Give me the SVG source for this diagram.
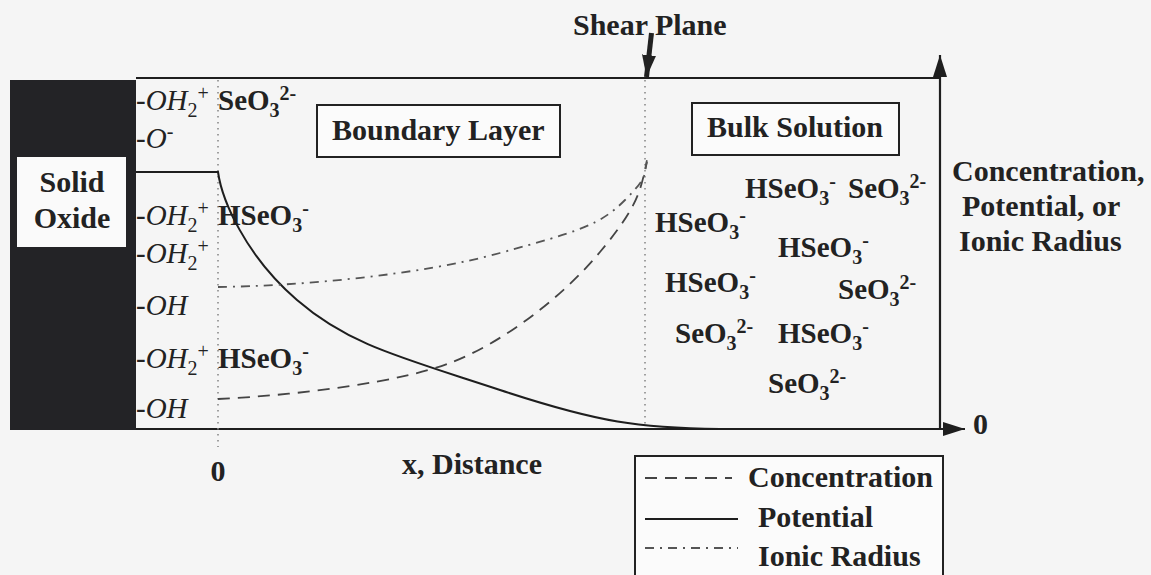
<svg xmlns="http://www.w3.org/2000/svg" width="1151" height="575" viewBox="0 0 1151 575">
<style>
text{font-family:"Liberation Serif","Times New Roman",serif;fill:#222;}
.h{font-size:30px;font-weight:bold;}
.lab{font-size:29px;}
.i{font-style:italic;}
.b{font-weight:bold;}
.sp{font-size:29px;font-weight:bold;}
.s{font-size:20px;}
.box{fill:#fbfbfb;stroke:#222;stroke-width:2;}
.ax{stroke:#1e1e1e;stroke-width:2.2;fill:none;}
.dot{stroke:#8a8a8a;stroke-width:1.6;stroke-dasharray:1.5 4.5;fill:none;}
.pot{stroke:#1e1e1e;stroke-width:2;fill:none;}
.con{stroke:#444;stroke-width:1.8;stroke-dasharray:12 8;fill:none;}
.ion{stroke:#555;stroke-width:1.8;stroke-dasharray:9 6 2 6;fill:none;}
</style>
<defs>
<marker id="ah" markerUnits="userSpaceOnUse" markerWidth="24" markerHeight="16" refX="22" refY="7" orient="auto">
<path d="M0,0 L22,7 L0,14 z" fill="#1e1e1e"/>
</marker>
<marker id="sh" markerUnits="userSpaceOnUse" markerWidth="24" markerHeight="16" refX="22" refY="7" orient="auto">
<path d="M0,0 L22,7 L0,14 z" fill="#222"/>
</marker>
</defs>
<rect x="0" y="0" width="1151" height="575" fill="#f5f5f5"/>

<g id="solid-oxide">
<rect x="10" y="80" width="126" height="350" fill="#232326"/>
<rect x="17" y="157" width="109" height="90" fill="#fafafa"/>
<text class="h" x="72" y="192" text-anchor="middle">Solid</text>
<text class="h" x="72" y="228" text-anchor="middle">Oxide</text>
</g>

<g id="axes">
<line class="ax" x1="136" y1="78" x2="940" y2="78"/>
<line class="ax" x1="940" y1="430" x2="940" y2="55" marker-end="url(#ah)"/>
<line class="ax" x1="136" y1="429" x2="965" y2="429" marker-end="url(#ah)"/>
<line class="dot" x1="218" y1="80" x2="218" y2="447"/>
<line class="dot" x1="645" y1="80" x2="645" y2="428"/>
<text class="h" x="218" y="481" text-anchor="middle">0</text>
<text class="h" x="973" y="434">0</text>
<text class="h" x="402" y="474">x, Distance</text>
<text class="h" x="952" y="181">Concentration,</text>
<text class="h" x="962" y="216">Potential, or</text>
<text class="h" x="959" y="251">Ionic Radius</text>
</g>

<g id="shear-plane">
<text class="h" x="573" y="35">Shear Plane</text>
</g>

<g id="boundary-layer">
<rect class="box" x="317" y="105" width="243" height="52"/>
<text class="h" x="332" y="140">Boundary Layer</text>
</g>

<g id="bulk-solution">
<rect class="box" x="692" y="103" width="207" height="52"/>
<text class="h" x="707" y="137">Bulk Solution</text>
</g>

<g id="surface-groups">
<text class="lab" x="136" y="110">-<tspan class="i">OH</tspan><tspan class="s" dy="7">2</tspan><tspan class="s" dy="-17">+</tspan><tspan class="b" x="218" dy="10">SeO</tspan><tspan class="s b" dy="7">3</tspan><tspan class="s b" dy="-17">2-</tspan></text>
<text class="lab" x="136" y="148">-<tspan class="i">O</tspan><tspan class="s" dy="-10">-</tspan></text>
<text class="lab" x="136" y="225">-<tspan class="i">OH</tspan><tspan class="s" dy="7">2</tspan><tspan class="s" dy="-17">+</tspan><tspan class="b" x="218" dy="10">HSeO</tspan><tspan class="s b" dy="7">3</tspan><tspan class="s b" dy="-17">-</tspan></text>
<text class="lab" x="136" y="263">-<tspan class="i">OH</tspan><tspan class="s" dy="7">2</tspan><tspan class="s" dy="-17">+</tspan></text>
<text class="lab" x="136" y="315">-<tspan class="i">OH</tspan></text>
<text class="lab" x="136" y="368">-<tspan class="i">OH</tspan><tspan class="s" dy="7">2</tspan><tspan class="s" dy="-17">+</tspan><tspan class="b" x="218" dy="10">HSeO</tspan><tspan class="s b" dy="7">3</tspan><tspan class="s b" dy="-17">-</tspan></text>
<text class="lab" x="136" y="418">-<tspan class="i">OH</tspan></text>
</g>

<g id="bulk-species">
<text class="sp" x="745" y="198">HSeO<tspan class="s" dy="7">3</tspan><tspan class="s" dy="-17">-</tspan></text>
<text class="sp" x="848" y="198">SeO<tspan class="s" dy="7">3</tspan><tspan class="s" dy="-17">2-</tspan></text>
<text class="sp" x="655" y="232">HSeO<tspan class="s" dy="7">3</tspan><tspan class="s" dy="-17">-</tspan></text>
<text class="sp" x="778" y="257">HSeO<tspan class="s" dy="7">3</tspan><tspan class="s" dy="-17">-</tspan></text>
<text class="sp" x="665" y="292">HSeO<tspan class="s" dy="7">3</tspan><tspan class="s" dy="-17">-</tspan></text>
<text class="sp" x="838" y="299">SeO<tspan class="s" dy="7">3</tspan><tspan class="s" dy="-17">2-</tspan></text>
<text class="sp" x="675" y="343">SeO<tspan class="s" dy="7">3</tspan><tspan class="s" dy="-17">2-</tspan></text>
<text class="sp" x="778" y="343">HSeO<tspan class="s" dy="7">3</tspan><tspan class="s" dy="-17">-</tspan></text>
<text class="sp" x="768" y="393">SeO<tspan class="s" dy="7">3</tspan><tspan class="s" dy="-17">2-</tspan></text>
</g>

<g id="connectors">
<line x1="651.5" y1="33" x2="646.5" y2="77" stroke="#222" stroke-width="5" marker-end="url(#sh)"/>
<path class="pot" d="M136,172 L218,172 C222,200 245,255 297,300 S 400,357 500,390 S 640,428 720,429"/>
<path class="con" d="M218,399 C300,395 400,382 450,363 S 560,300 600,252 S 640,190 647,162"/>
<path class="ion" d="M218,287 C300,286 420,275 500,253 S 600,225 625,200 S 643,175 647,160"/>
</g>

<g id="legend">
<rect class="box" x="635" y="456" width="308" height="130"/>
<line class="con" x1="645" y1="478" x2="732" y2="478"/>
<line class="pot" x1="645" y1="519" x2="738" y2="519"/>
<line class="ion" x1="645" y1="548" x2="738" y2="548"/>
<text class="h" x="748" y="487">Concentration</text>
<text class="h" x="758" y="527">Potential</text>
<text class="h" x="758" y="566">Ionic Radius</text>
</g>
</svg>
